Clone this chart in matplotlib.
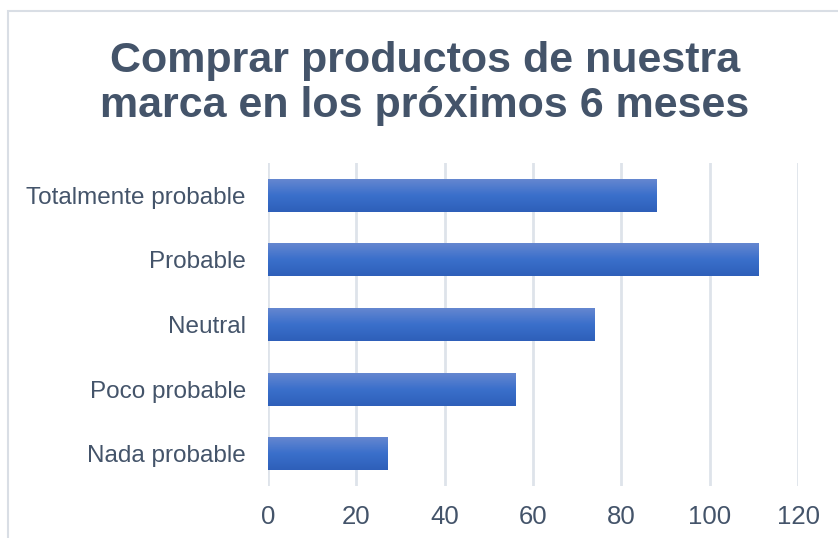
import numpy as np
import matplotlib
matplotlib.use("Agg")
import matplotlib.pyplot as plt
from matplotlib.patches import Rectangle
from matplotlib.colors import LinearSegmentedColormap

plt.rcParams['font.family'] = ['Liberation Sans', 'DejaVu Sans']

categorias = ["Nada probable", "Poco probable", "Neutral", "Probable", "Totalmente probable"]
valores = [27, 56, 74, 111, 88]
ticks_x = [0, 20, 40, 60, 80, 100, 120]

texto = '#44546A'
rejilla = '#DEE3EA'
degradado = LinearSegmentedColormap.from_list('azul', ['#2E5FB9', '#3A6FCB', '#6587D0'])

fig = plt.figure(figsize=(8.38, 5.38), dpi=100)
fig.patch.set_facecolor('white')

# marco del area del grafico (se sale por la derecha y por abajo)
fig.patches.append(Rectangle((8 / 838, -0.1), 1.2, 1 - 11 / 538 + 0.1,
                             transform=fig.transFigure, fill=False,
                             edgecolor='#D9DEE5', linewidth=1.5))

fig.text(0.507, 0.845, "Comprar productos de nuestra\nmarca en los próximos 6 meses",
         ha='center', va='center', fontsize=31, fontweight='bold',
         color=texto, linespacing=1.15)

ax = fig.add_axes([268 / 838, 1 - 486 / 538, 530 / 838, 323 / 538])
y = np.arange(len(categorias))
barras = ax.barh(y, valores, height=0.51, color='#3A6FCB', zorder=2)

# relleno en degradado vertical recortado a cada barra
grad = np.linspace(0, 1, 256).reshape(-1, 1)
for b in barras:
    x0, y0 = b.get_x(), b.get_y()
    im = ax.imshow(grad, cmap=degradado, origin='lower', aspect='auto',
                   extent=[x0, x0 + b.get_width(), y0, y0 + b.get_height()],
                   zorder=3)
    im.set_clip_path(b)

ax.set_xlim(0, 120)
ax.set_ylim(-0.5, len(categorias) - 0.5)
ax.set_xticks(ticks_x)
ax.set_yticks(y)
ax.set_yticklabels(categorias)
ax.grid(axis='x', color=rejilla, linewidth=2, zorder=0)
ax.set_axisbelow(True)
for s in ax.spines.values():
    s.set_visible(False)
ax.tick_params(axis='both', length=0, colors=texto)
ax.tick_params(axis='x', pad=14, labelsize=18.5)
ax.tick_params(axis='y', pad=16, labelsize=17.5)

fig.savefig("out.png", dpi=100, facecolor='white')
